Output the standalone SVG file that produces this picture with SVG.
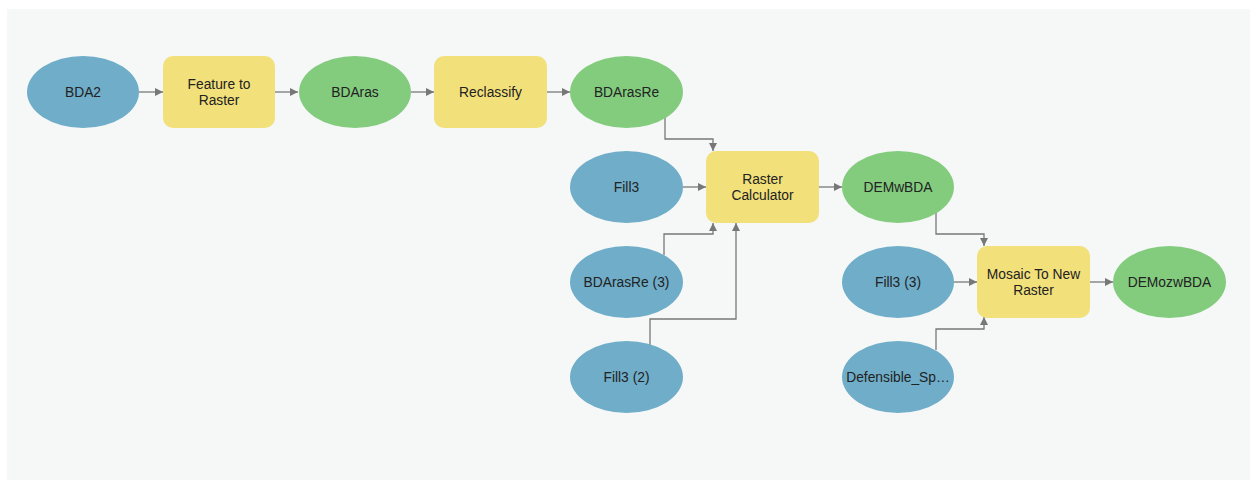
<svg xmlns="http://www.w3.org/2000/svg" width="1250" height="481" viewBox="0 0 1250 481">
<style>
.data{fill:#6fadc9}
.out{fill:#83cc7e}
.tool{fill:#f2e07b}
text{font-family:"Liberation Sans",Arial,sans-serif;font-size:13.8px;fill:#222;text-anchor:middle;dominant-baseline:central}
.c{fill:none;stroke:#777;stroke-width:1.3}
</style>
<defs>
<marker id="ah" viewBox="0 0 10 10" refX="10" refY="5" markerWidth="8" markerHeight="8" markerUnits="userSpaceOnUse" orient="auto">
<path d="M0,0 L10,5 L0,10 z" fill="#777"/>
</marker>
</defs>
<rect x="0" y="0" width="1250" height="481" fill="#ffffff"/>
<rect x="7" y="9" width="1243" height="471" fill="#f6f8f8"/>
<g id="connectors">
<path class="c" d="M139,92 H163" marker-end="url(#ah)"/>
<path class="c" d="M275,92 H298" marker-end="url(#ah)"/>
<path class="c" d="M411,92 H434" marker-end="url(#ah)"/>
<path class="c" d="M547,92 H570" marker-end="url(#ah)"/>
<path class="c" d="M665,117 V139 H713 V151" marker-end="url(#ah)"/>
<path class="c" d="M683,187 H706" marker-end="url(#ah)"/>
<path class="c" d="M664,255 V234 H713 V223" marker-end="url(#ah)"/>
<path class="c" d="M650,345 V319 H736 V223" marker-end="url(#ah)"/>
<path class="c" d="M819,187 H842" marker-end="url(#ah)"/>
<path class="c" d="M936,213 V234 H984 V246" marker-end="url(#ah)"/>
<path class="c" d="M954,282 H977" marker-end="url(#ah)"/>
<path class="c" d="M936,350 V329 H984 V317" marker-end="url(#ah)"/>
<path class="c" d="M1090,282 H1113" marker-end="url(#ah)"/>
</g>
<g id="n-bda2"><ellipse class="data" cx="83" cy="92" rx="56" ry="36"/><text x="83" y="92">BDA2</text></g>
<g id="n-featuretoraster"><rect class="tool" x="163" y="56" width="112" height="72" rx="10"/><text x="219" y="84">Feature to</text><text x="219" y="100">Raster</text></g>
<g id="n-bdaras"><ellipse class="out" cx="355" cy="92" rx="56" ry="36"/><text x="355" y="92">BDAras</text></g>
<g id="n-reclassify"><rect class="tool" x="434" y="56" width="113" height="72" rx="10"/><text x="490.5" y="92">Reclassify</text></g>
<g id="n-bdarasre"><ellipse class="out" cx="626.5" cy="92" rx="56.5" ry="36"/><text x="626.5" y="92">BDArasRe</text></g>
<g id="n-fill3"><ellipse class="data" cx="626.5" cy="187" rx="56.5" ry="36"/><text x="626.5" y="187">Fill3</text></g>
<g id="n-rastercalc"><rect class="tool" x="706" y="151" width="113" height="72" rx="10"/><text x="762.5" y="179">Raster</text><text x="762.5" y="195">Calculator</text></g>
<g id="n-bdarasre3"><ellipse class="data" cx="626.5" cy="282" rx="56.5" ry="36"/><text x="626.5" y="282">BDArasRe (3)</text></g>
<g id="n-fill3-2"><ellipse class="data" cx="626.5" cy="377" rx="56.5" ry="36"/><text x="626.5" y="377">Fill3 (2)</text></g>
<g id="n-demwbda"><ellipse class="out" cx="898" cy="187" rx="56" ry="36"/><text x="898" y="187">DEMwBDA</text></g>
<g id="n-fill3-3"><ellipse class="data" cx="898" cy="282" rx="56" ry="36"/><text x="898" y="282">Fill3 (3)</text></g>
<g id="n-mosaic"><rect class="tool" x="977" y="246" width="113" height="72" rx="10"/><text x="1033.5" y="274">Mosaic To New</text><text x="1033.5" y="290">Raster</text></g>
<g id="n-demozwbda"><ellipse class="out" cx="1169.5" cy="282" rx="56.5" ry="36"/><text x="1169.5" y="282">DEMozwBDA</text></g>
<g id="n-defensible"><ellipse class="data" cx="898" cy="377" rx="56" ry="36"/><text x="898" y="377">Defensible_Sp…</text></g>
</svg>
